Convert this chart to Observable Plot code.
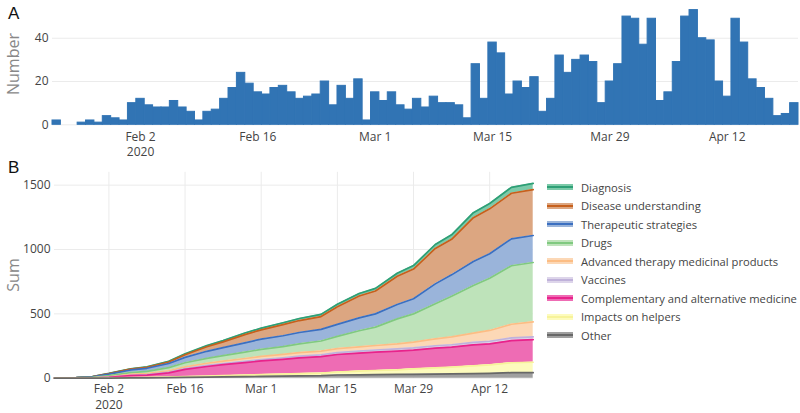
<!DOCTYPE html>
<html>
<head>
<meta charset="utf-8">
<script src="https://cdn.jsdelivr.net/npm/d3@7"></script>
<script src="https://cdn.jsdelivr.net/npm/@observablehq/plot@0.6"></script>
<style>
  html, body { margin: 0; padding: 0; background: #fff; }
  body { width: 800px; height: 413px; position: relative; overflow: hidden; font-family: "Open Sans", sans-serif; }
  .panel { position: absolute; left: 0; }
  .letter { position: absolute; font-family: "Liberation Sans", Arial, sans-serif; font-size: 17px; color: #111; line-height: 1; }
  .ylab { position: absolute; font-size: 16px; color: #888; transform: translate(-50%, -50%) rotate(-90deg); white-space: nowrap; line-height: 1; }
  #legend { position: absolute; left: 547px; top: 178px; font-size: 11.2px; color: #444; white-space: nowrap; }
  #legend .item { height: 18.5px; display: flex; align-items: center; }
  #legend svg { margin-right: 4px; flex: none; }
</style>
</head>
<body>
<div class="letter" style="left:8px; top:5px;">A</div>
<div class="letter" style="left:8px; top:159px;">B</div>
<div class="ylab" style="left:13px; top:64px;">Number</div>
<div class="ylab" style="left:13px; top:275px;">Sum</div>
<div id="a" class="panel" style="top:0px;"></div>
<div id="b" class="panel" style="top:165px;"></div>
<div id="legend"></div>
<script>
// ---------- Panel A: daily counts (Jan 23 .. Apr 20, 2020) ----------
const firstDay = "2020-01-23";
const dailyCounts = [
  2, 0, 0, 1, 2, 1, 4, 3, 2,
  10, 12, 9, 8, 8, 11, 8, 6, 2, 6, 7, 12, 17, 24, 19, 15, 14, 17, 18, 15, 12, 13, 14, 20, 9, 18, 12, 21, 2,
  15, 11, 15, 9, 7, 12, 8, 13, 10, 10, 9, 3, 28, 12, 38, 33, 14, 20, 17, 22, 6, 12, 32, 24, 30, 32, 29, 10, 20, 28, 50,
  49, 37, 49, 11, 15, 29, 50, 53, 40, 39, 20, 13, 49, 38, 21, 17, 12, 4, 5, 10
];
const tickDates = ["2020-02-02", "2020-02-16", "2020-03-01", "2020-03-15", "2020-03-29", "2020-04-12"];
const yTicksA = [0, 20, 40];

// ---------- Panel B: cumulative sums by category ----------
const sampleDates = ["2020-01-23","2020-01-27","2020-01-30","2020-02-02","2020-02-06","2020-02-09","2020-02-13",
  "2020-02-16","2020-02-20","2020-02-23","2020-02-27","2020-03-01","2020-03-05","2020-03-08","2020-03-12",
  "2020-03-15","2020-03-19","2020-03-22","2020-03-26","2020-03-29","2020-04-02","2020-04-05","2020-04-09",
  "2020-04-12","2020-04-16","2020-04-20"];
const diagnosis      = [1,1,1,2,3,4,5,7,9,10,12,14,15,16,17,18,19,20,24,27,31,35,39,42,46,48];
const disease        = [0,0,1,3,6,8,12,20,35,45,64,71,86,93,100,138,170,178,219,231,275,276,340,349,354,357];
const therapeutic    = [1,2,5,12,20,24,32,42,55,62,72,80,85,88,90,93,100,103,112,117,155,166,187,190,209,210];
const drugs          = [0,1,3,9,15,18,25,32,38,42,50,55,60,68,78,95,125,143,194,220,272,316,370,406,455,461];
const advanced       = [0,0,1,3,6,7,10,13,17,19,22,24,26,28,29,31,33,35,39,44,54,61,71,84,106,117];
const vaccines       = [0,1,1,2,3,4,5,7,8,9,10,11,12,13,14,15,16,17,18,18,19,19,20,20,21,21];
const complementary  = [0,0,1,4,15,18,33,55,75,85,97,106,115,122,128,136,140,142,145,145,153,155,163,163,172,176];
const impacts        = [0,0,0,1,3,3,5,7,8,10,12,14,16,18,20,23,29,32,36,43,48,53,61,67,77,81];
const other          = [0,0,0,1,2,3,4,6,8,10,12,14,16,18,20,25,26,28,29,30,32,33,35,37,43,43];
const yTicksB = [0, 500, 1000, 1500];

// legend order (top to bottom)
const categories = ["Diagnosis","Disease understanding","Therapeutic strategies","Drugs",
  "Advanced therapy medicinal products","Vaccines","Complementary and alternative medicine",
  "Impacts on helpers","Other"];
const seriesValues = [diagnosis, disease, therapeutic, drugs, advanced, vaccines, complementary, impacts, other];
const fillColors = ["#7ccaa9","#dca681","#9ab4da","#bee3ba","#fcd8b6","#ddd5ea","#ee6cb4","#fdfbbd","#a0a0a0"];
const lineColors = ["#2e9f76","#c6601c","#3b6fc0","#80c980","#fcbd84","#c0b2da","#e8238b","#f7f39a","#686868"];

// ---------- build ----------
const parse = d3.utcParse("%Y-%m-%d");
const fmtTick = d => (+d === +parse("2020-02-02")) ? "Feb 2\n2020" : d3.utcFormat("%b %-d")(d);
const ticks = tickDates.map(parse);
const t0 = parse(firstDay);
const barData = dailyCounts.map((n, i) => ({date: d3.utcDay.offset(t0, i), n}));
const halfDay = 12 * 3600 * 1000;

const textStyle = {fontFamily: "'Open Sans', sans-serif", fontSize: "12px", color: "#444", background: "transparent", overflow: "visible"};

const chartA = Plot.plot({
  width: 800, height: 165,
  marginLeft: 52, marginRight: 2, marginTop: 3.1, marginBottom: 40.7,
  style: textStyle,
  x: {type: "utc", domain: [new Date(+t0 - halfDay), new Date(+d3.utcDay.offset(t0, dailyCounts.length - 1) + halfDay)]},
  y: {domain: [0, 56]},
  marks: [
    Plot.gridY(yTicksA, {stroke: "#ebebeb", strokeOpacity: 1}),
    Plot.rectY(barData, {x1: d => new Date(+d.date - halfDay), x2: d => new Date(+d.date + halfDay), y: "n",
      fill: "#3174b4", stroke: "#3174b4", strokeWidth: 1, inset: 0}),
    Plot.axisX(ticks, {tickFormat: fmtTick, tickSize: 0, tickPadding: 5, lineHeight: 1.3, label: null, fill: "#444"}),
    Plot.axisY(yTicksA, {tickSize: 0, tickPadding: 4, tickFormat: d3.format("d"), label: null, fill: "#444"})
  ]
});
document.getElementById("a").append(chartA);

const tableB = [];
categories.forEach((c, ci) => {
  sampleDates.forEach((ds, i) => tableB.push({date: parse(ds), cat: c, value: seriesValues[ci][i]}));
});
const stackOrder = categories.slice().reverse(); // bottom to top
const fillOf = Object.fromEntries(categories.map((c, i) => [c, fillColors[i]]));
const lineOf = Object.fromEntries(categories.map((c, i) => [c, lineColors[i]]));

const chartB = Plot.plot({
  width: 540, height: 248,
  marginLeft: 54, marginRight: 7.3, marginTop: 6.8, marginBottom: 35.3,
  style: textStyle,
  color: {type: "identity"},
  x: {type: "utc", domain: [parse(sampleDates[0]), parse(sampleDates[sampleDates.length - 1])]},
  y: {domain: [0, 1600]},
  marks: [
    Plot.gridX(ticks, {stroke: "#ebebeb", strokeOpacity: 1}),
    Plot.gridY(yTicksB, {stroke: "#ebebeb", strokeOpacity: 1}),
    Plot.areaY(tableB, Plot.stackY({x: "date", y: "value", z: "cat", order: stackOrder, fill: d => fillOf[d.cat]})),
    Plot.lineY(tableB, Plot.stackY2({x: "date", y: "value", z: "cat", order: stackOrder, stroke: d => lineOf[d.cat], strokeWidth: 1.7})),
    Plot.axisX(ticks, {tickFormat: fmtTick, tickSize: 0, tickPadding: 4, lineHeight: 1.3, label: null, fill: "#444"}),
    Plot.axisY(yTicksB, {tickSize: 0, tickPadding: 4, tickFormat: d3.format("d"), label: null, fill: "#444"})
  ]
});
document.getElementById("b").append(chartB);

// legend
const legend = d3.select("#legend");
categories.forEach((c, i) => {
  const item = legend.append("div").attr("class", "item");
  const svg = item.append("svg").attr("width", 30).attr("height", 8);
  svg.append("rect").attr("x", 0).attr("y", 1).attr("width", 26).attr("height", 6).attr("fill", fillColors[i]);
  svg.append("line").attr("x1", 0).attr("x2", 26).attr("y1", 4).attr("y2", 4).attr("stroke", lineColors[i]).attr("stroke-width", 2);
  item.append("span").text(c);
});
</script>
</body>
</html>
